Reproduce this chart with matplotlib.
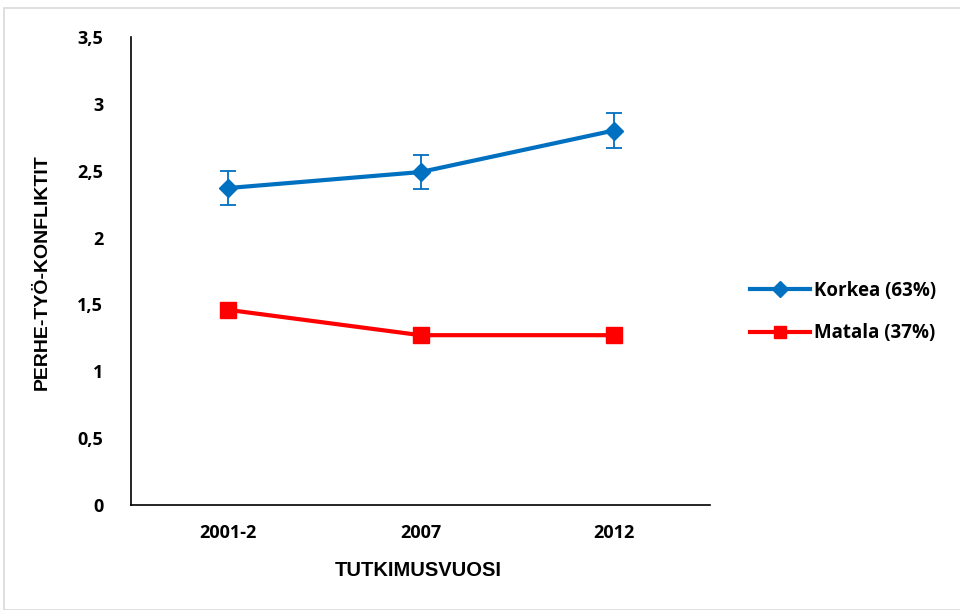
import matplotlib.pyplot as plt
from matplotlib.patches import Rectangle
from matplotlib.lines import Line2D

# data
years = ['2001-2', '2007', '2012']
korkea = [2.37, 2.49, 2.80]
korkea_err = [0.125, 0.125, 0.13]
matala = [1.46, 1.27, 1.27]
matala_err = [0.03, 0.03, 0.03]

blue = '#0070C0'
red = '#FF0000'
tickfont = 'Open Sans'

fig = plt.figure(figsize=(9.6, 6.1), dpi=100)
ax = fig.add_axes([131/960, 1 - 505/610, (710 - 131)/960, (505 - 37)/610])

x = range(len(years))
ax.errorbar(x, korkea, yerr=korkea_err, color=blue, lw=3, marker='D', ms=9,
            capsize=6, elinewidth=1.3, capthick=1.3, zorder=3)
ax.errorbar(x, matala, yerr=matala_err, color=red, lw=3, marker='s', ms=11,
            capsize=4, elinewidth=1.3, capthick=1.3, zorder=3)

ax.set_xlim(-0.5, 2.5)
ax.set_ylim(0, 3.5)
ax.set_yticks([0, 0.5, 1, 1.5, 2, 2.5, 3, 3.5])
ax.set_yticklabels(['0', '0,5', '1', '1,5', '2', '2,5', '3', '3,5'])
ax.set_xticks(list(x))
ax.set_xticklabels(years)
ax.tick_params(length=0, labelsize=13)
ax.tick_params(axis='y', pad=20)
ax.tick_params(axis='x', pad=14)
for lab in ax.get_xticklabels() + ax.get_yticklabels():
    lab.set_fontfamily(tickfont)
    lab.set_fontweight('bold')

for s in ['top', 'right']:
    ax.spines[s].set_visible(False)
ax.spines['left'].set_linewidth(1.2)
ax.spines['bottom'].set_linewidth(1.2)

fig.text(418/960, 1 - 570/610, 'TUTKIMUSVUOSI', ha='center', va='center',
         fontsize=14.5, fontweight='bold', family='Liberation Sans')
fig.text(42/960, 1 - 272/610, 'PERHE-TYÖ-KONFLIKTIT', ha='center', va='center',
         rotation=90, fontsize=14, fontweight='bold', family='Liberation Sans')

handles = [Line2D([], [], color=blue, lw=3, marker='D', ms=8),
           Line2D([], [], color=red, lw=3, marker='s', ms=9)]
labels = ['Korkea (63%)', 'Matala (37%)']
fig.legend(handles, labels, loc='center left', bbox_to_anchor=(733/960, 1 - 312/610),
           frameon=False, prop={'family': tickfont, 'weight': 'bold', 'size': 13.5},
           handlelength=3.2, labelspacing=1.2, handletextpad=0.2)

fig.add_artist(Rectangle((4/960, 0), 1, 1 - 8/610, transform=fig.transFigure,
                         fill=False, edgecolor='#d9d9d9', lw=1.2))

fig.savefig('out.png', dpi=100)
